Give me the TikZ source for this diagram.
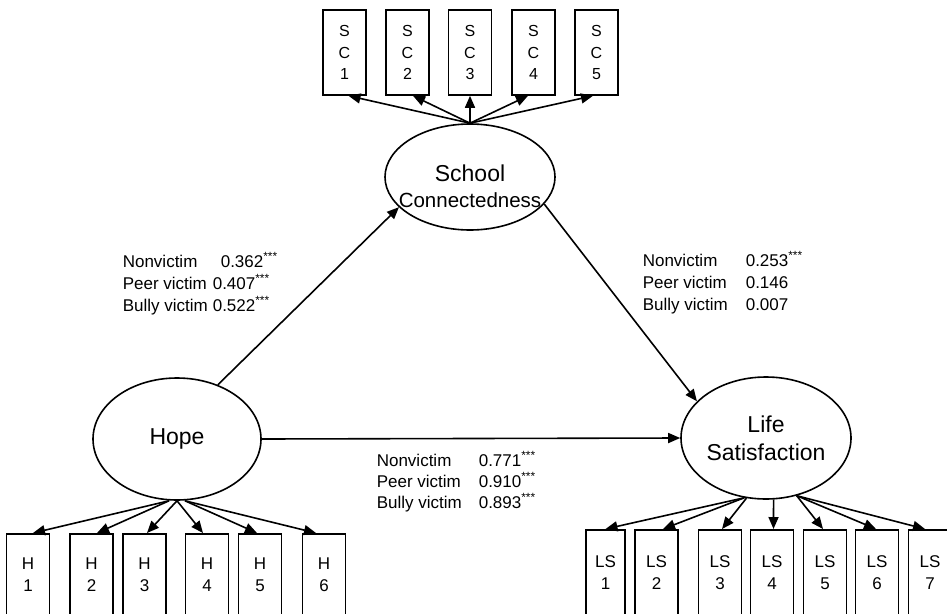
\documentclass[tikz,border=0pt]{standalone}
\usepackage{fontspec}
\setmainfont{Liberation Sans}
\usetikzlibrary{shapes.geometric,arrows.meta}
\begin{document}
\begin{tikzpicture}[x=1pt,y=-1pt,
  line width=1.6pt,
  latent/.style={draw, ellipse, minimum width=170pt, minimum height=122pt, inner sep=0pt, align=center, font=\fontsize{23}{28}\selectfont},
  obs/.style={draw, rectangle, minimum width=43pt, inner sep=0pt, align=center, font=\fontsize{17}{22}\selectfont},
  arr/.style={-{Triangle[length=12pt,width=10pt]}},
  lab/.style={anchor=base west, inner sep=0pt, font=\fontsize{17}{20}\selectfont}
]
\useasboundingbox (0,0) rectangle (947,613);
\clip (0,0) rectangle (947,613);

% latent variables
\node[latent, minimum height=106pt] (school) at (470,177) {};
\node[inner sep=0pt, anchor=base, font=\fontsize{23}{27}\selectfont] (schoolt1) at (470,181) {School};
\node[inner sep=0pt, anchor=base, font=\fontsize{20.5}{27}\selectfont] (schoolt2) at (470,207) {Connectedness};
\node[latent, minimum width=168pt] (hope) at (177,439) {Hope};
\node[latent] (life) at (766,438) {Life\\Satisfaction};

% SC indicators
\foreach \i/\x in {1/344.5,2/407.5,3/470,4/533.5,5/596.5}
  \node[obs, minimum height=85pt, font=\fontsize{16}{21.5}\selectfont] (sc\i) at (\x,52.5) {S\\C\\\i};

% H indicators
\foreach \i/\x in {1/28,2/91.5,3/144.5,4/207,5/260,6/324}
  \node[obs, minimum height=82pt, anchor=north] (h\i) at (\x,533) {H\\\i};

% LS indicators
\node[obs, minimum width=39pt, minimum height=86pt, anchor=north] (ls1) at (605.5,529) {LS\\1};
\foreach \i/\x in {2/656.5,3/720,4/772,5/825,6/877,7/930}
  \node[obs, minimum height=86pt, anchor=north] (ls\i) at (\x,529) {LS\\\i};

% loadings
\draw[arr] (school.north) -- ([xshift=4pt]sc1.south);
\draw[arr] (school.north) -- ([xshift=5.5pt]sc2.south);
\draw[arr] (school.north) -- (sc3.south);
\draw[arr] (school.north) -- ([xshift=-5.5pt]sc4.south);
\draw[arr] (school.north) -- ([xshift=-3.5pt]sc5.south);

\draw[arr] ([xshift=-8pt]hope.south) -- ([xshift=5pt]h1.north);
\draw[arr] ([xshift=-8pt]hope.south) -- ([xshift=5.5pt]h2.north);
\draw[arr] (hope.south) -- ([xshift=2.5pt]h3.north);
\draw[arr] (hope.south) -- ([xshift=-4pt]h4.north);
\draw[arr] ([xshift=8pt]hope.south) -- ([xshift=-3pt]h5.north);
\draw[arr] ([xshift=8pt]hope.south) -- ([xshift=-8pt]h6.north);

\draw[arr] (life.-110) -- (ls1.north);
\draw[arr] (life.-110) -- ([xshift=6.5pt]ls2.north);
\draw[arr] (life.-108) -- ([xshift=2pt]ls3.north);
\draw[arr] (life.-83) -- ([xshift=1.5pt]ls4.north);
\draw[arr] (life.-62) -- ([xshift=-2pt]ls5.north);
\draw[arr] (life.-62) -- ([xshift=-1pt]ls6.north);
\draw[arr] (life.-62) -- ([xshift=-5pt]ls7.north);

% structural paths
\draw[arr] (hope.53) -- (school.203);
\draw[arr] (school.-20) -- (life.152);
\draw[arr] (hope.east) -- (life.west);

% coefficient labels: Hope -> School
\node[lab] (a1) at (122,267) {Nonvictim};
\node[lab] (a1v) at (220,267) {0.362\textsuperscript{***}};
\node[lab] (a2) at (122,289) {Peer victim};
\node[lab] (a2v) at (212,289) {0.407\textsuperscript{***}};
\node[lab] (a3) at (122,311) {Bully victim};
\node[lab] (a3v) at (212,311) {0.522\textsuperscript{***}};

% School -> Life
\node[lab] (b1) at (642,266) {Nonvictim};
\node[lab] (b1v) at (745,266) {0.253\textsuperscript{***}};
\node[lab] (b2) at (642,288) {Peer victim};
\node[lab] (b2v) at (745,288) {0.146};
\node[lab] (b3) at (642,310) {Bully victim};
\node[lab] (b3v) at (745,310) {0.007};

% Hope -> Life
\node[lab] (c1) at (376,466) {Nonvictim};
\node[lab] (c1v) at (478,466) {0.771\textsuperscript{***}};
\node[lab] (c2) at (376,487) {Peer victim};
\node[lab] (c2v) at (478,487) {0.910\textsuperscript{***}};
\node[lab] (c3) at (376,508) {Bully victim};
\node[lab] (c3v) at (478,508) {0.893\textsuperscript{***}};
\end{tikzpicture}
\end{document}
